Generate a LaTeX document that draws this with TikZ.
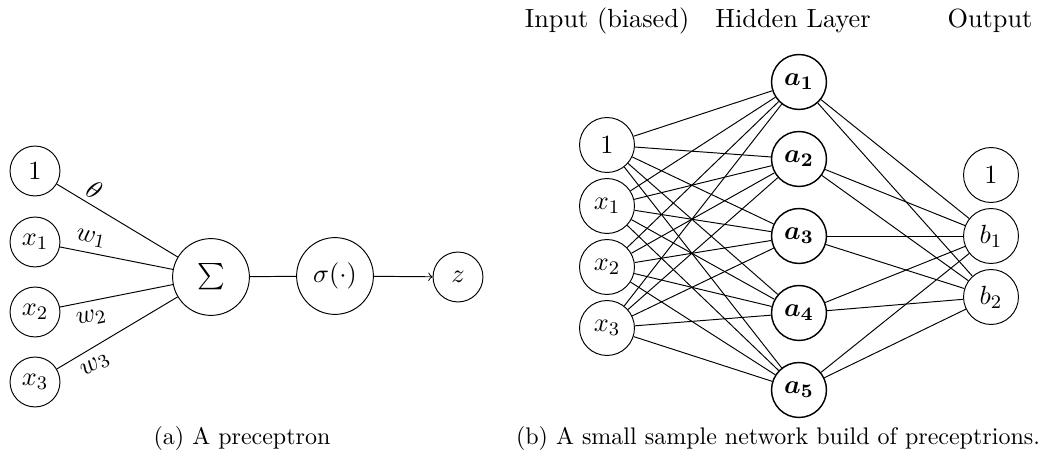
\documentclass[tikz,border=0pt]{standalone}
\usepackage{amsmath}
\begin{document}
\tikzset{
  every node/.style={font=\fontsize{10.95}{13.6}\selectfont},
  neuron/.style={circle,draw,minimum size=20.8pt,inner sep=0pt},
  bigneuron/.style={circle,draw,minimum size=32pt,inner sep=0pt},
  netnode/.style={circle,draw,minimum size=22.9pt,inner sep=0pt},
  hidnode/.style={netnode,semithick},
  wlabel/.style={sloped,near start,inner sep=2pt},
  wlabelb/.style={sloped,near start,inner sep=3.5pt},
  header/.style={anchor=base,font=\fontsize{10.95}{13.6}\selectfont},
  captext/.style={anchor=base,font=\fontsize{10}{12}\selectfont}
}
\begin{tikzpicture}[x=0.41667pt,y=-0.41667pt]
\useasboundingbox (0,0) rectangle (1042,462);
% (a) perceptron
\node[neuron] (one) at (35,171) {$1$};
\node[neuron] (x1) at (35,242) {$x_1$};
\node[neuron] (x2) at (35,312) {$x_2$};
\node[neuron] (x3) at (35,382) {$x_3$};
\node[bigneuron] (sum) at (211,277) {$\sum$};
\node[bigneuron] (sig) at (335,276) {$\sigma(\cdot)$};
\node[neuron] (z) at (458,277) {$z$};
\draw (one) -- node[wlabel,above]{$\theta$} (sum);
\draw (x1) -- node[wlabel,above,pos=0.25,inner sep=2.6pt]{$w_1$} (sum);
\draw (x2) -- node[wlabelb,below]{$w_2$} (sum);
\draw (x3) -- node[wlabelb,below]{$w_3$} (sum);
\draw (sum) -- (sig);
\draw[->] (sig) -- (z);
\node[captext] (capa) at (242,445) {(a) A preceptron};
% (b) network
\node[header] (hin) at (607,28) {Input (biased)};
\node[header] (hhid) at (793,28) {Hidden Layer};
\node[header] (hout) at (990,28) {Output};
\node[netnode] (i0) at (607,145) {$1$};
\node[netnode] (i1) at (607,206) {$x_1$};
\node[netnode] (i2) at (607,267) {$x_2$};
\node[netnode] (i3) at (607,328) {$x_3$};
\node[hidnode] (h1) at (799,82) {$\boldsymbol{a_1}$};
\node[hidnode] (h2) at (799,159) {$\boldsymbol{a_2}$};
\node[hidnode] (h3) at (799,236) {$\boldsymbol{a_3}$};
\node[hidnode] (h4) at (799,313) {$\boldsymbol{a_4}$};
\node[hidnode] (h5) at (799,390) {$\boldsymbol{a_5}$};
\node[netnode] (o0) at (991,175) {$1$};
\node[netnode] (b1) at (991,236) {$b_1$};
\node[netnode] (b2) at (991,297) {$b_2$};
\foreach \i in {i0,i1,i2,i3} {
  \foreach \h in {h1,h2,h3,h4,h5} {
    \draw (\i) -- (\h);
  }
}
\foreach \h in {h1,h2,h3,h4,h5} {
  \foreach \b in {b1,b2} {
    \draw (\h) -- (\b);
  }
}
\node[captext] (capb) at (778,445) {(b) A small sample network build of preceptrions.};
\end{tikzpicture}
\end{document}
